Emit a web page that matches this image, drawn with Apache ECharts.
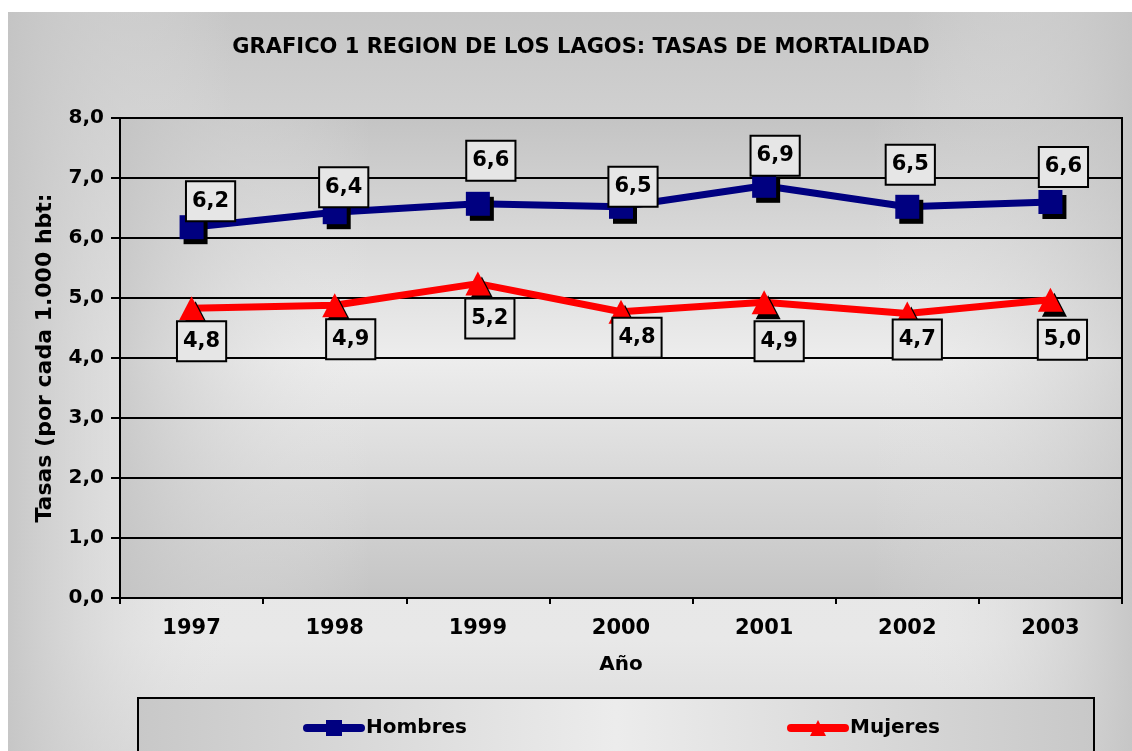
<!DOCTYPE html>
<html>
<head>
<meta charset="utf-8">
<script src="https://cdn.jsdelivr.net/npm/echarts@6/dist/echarts.min.js"></script>
<style>
  html, body { margin: 0; padding: 0; background: #fff; }
  #chart { width: 1132px; height: 751px; }
</style>
</head>
<body>
<div id="chart"></div>
<script>
const years = ["1997", "1998", "1999", "2000", "2001", "2002", "2003"];
const hombres = [6.18, 6.43, 6.57, 6.52, 6.87, 6.52, 6.6];
const mujeres = [4.83, 4.88, 5.24, 4.77, 4.93, 4.74, 4.97];

// label box nudges (px), like the hand-placed boxes in the original
const hombresLabelOffset = [[19, -26], [9, -25], [13, -43], [12, -20], [11, -30], [3, -42], [13, -35]];
const mujeresLabelOffset = [[10, 33], [16, 34], [12, 35], [16, 26], [15, 39], [10, 26], [12, 40]];

const FONT = 'Verdana, "DejaVu Sans", sans-serif';
const fmt = (v) => v.toFixed(1).replace(".", ",");

const chart = echarts.init(document.getElementById("chart"));

const grad = (x2, y2, stops) => new echarts.graphic.LinearGradient(0, 0, x2, y2, stops);

const dataLabel = {
  show: true,
  position: "inside",
  formatter: (p) => fmt(p.value),
  fontFamily: FONT,
  fontSize: 21,
  fontWeight: "bold",
  color: "#000",
  lineHeight: 22,
  backgroundColor: "#e6e6e6",
  borderColor: "#000",
  borderWidth: 2,
  padding: [8, 5, 8, 5],
};

const markerShadow = { shadowColor: "#000", shadowBlur: 0, shadowOffsetX: 4, shadowOffsetY: 5 };

const legendBase = {
  top: 713,
  itemWidth: 54,
  itemHeight: 20,
  itemGap: 4,
  lineStyle: { width: 8, cap: "round" },
  itemStyle: { shadowOffsetX: 0, shadowOffsetY: 0, shadowColor: "transparent" },
  textStyle: { fontFamily: FONT, fontSize: 20, fontWeight: "bold", color: "#000" },
};

const option = {
  animation: false,
  title: {
    text: "GRAFICO 1 REGION DE LOS LAGOS: TASAS DE MORTALIDAD",
    left: 576,
    top: 32,
    textAlign: "center",
    textStyle: { fontFamily: FONT, fontSize: 21, fontWeight: "bold", color: "#000" },
  },
  graphic: [
    { type: "rect", z: -10, silent: true, shape: { x: 8, y: 12, width: 1124, height: 739 },
      style: { fill: grad(0, 1, [
        { offset: 0, color: "#c6c6c6" }, { offset: 0.45, color: "#e6e6e6" },
        { offset: 0.85, color: "#e8e8e8" }, { offset: 1, color: "#dadada" }]) } },
    { type: "rect", z: -9, silent: true, shape: { x: 8, y: 12, width: 1124, height: 739 },
      style: { fill: grad(1, 0, [
        { offset: 0, color: "rgba(196,196,196,0.9)" }, { offset: 0.2, color: "rgba(230,230,230,0)" },
        { offset: 0.8, color: "rgba(230,230,230,0)" }, { offset: 1, color: "rgba(196,196,196,0.9)" }]) } },
    { type: "rect", z: -8, silent: true, shape: { x: 120, y: 118, width: 1002, height: 480 },
      style: { fill: grad(0, 1, [
        { offset: 0, color: "#c4c4c4" }, { offset: 0.5, color: "#ededed" }, { offset: 1, color: "#c4c4c4" }]) } },
    { type: "rect", z: -7, silent: true, shape: { x: 120, y: 118, width: 1002, height: 480 },
      style: { fill: grad(1, 0, [
        { offset: 0, color: "rgba(196,196,196,0.8)" }, { offset: 0.25, color: "rgba(236,236,236,0)" },
        { offset: 0.75, color: "rgba(236,236,236,0)" }, { offset: 1, color: "rgba(196,196,196,0.6)" }]) } },
    { type: "rect", z: -6, silent: true, shape: { x: 138, y: 698, width: 956, height: 70 },
      style: { stroke: "#000", lineWidth: 2, fill: grad(1, 0, [
        { offset: 0, color: "#c8c8c8" }, { offset: 0.5, color: "#ececec" }, { offset: 1, color: "#c8c8c8" }]) } },
  ],
  legend: [
    { ...legendBase, data: ["Hombres"], left: 298 },
    { ...legendBase, data: ["Mujeres"], left: 782 },
  ],
  grid: {
    left: 120, top: 118, right: 10, bottom: 153,
    show: true, borderColor: "#000", borderWidth: 2, backgroundColor: "transparent",
  },
  xAxis: {
    type: "category",
    data: years,
    boundaryGap: true,
    name: "Año",
    nameLocation: "middle",
    nameGap: 57,
    nameTextStyle: { fontFamily: FONT, fontSize: 20, fontWeight: "bold", color: "#000" },
    axisLine: { lineStyle: { color: "#000", width: 2 } },
    axisTick: { show: true, length: 6, lineStyle: { color: "#000", width: 2 } },
    axisLabel: { margin: 20, fontFamily: FONT, fontSize: 21, fontWeight: "bold", color: "#000" },
    splitLine: { show: false },
  },
  yAxis: {
    type: "value",
    min: 0, max: 8, interval: 1,
    name: "Tasas (por cada 1.000 hbt:",
    nameLocation: "middle",
    nameGap: 64,
    nameTextStyle: { fontFamily: FONT, fontSize: 22, fontWeight: "bold", color: "#000" },
    axisLine: { show: true, lineStyle: { color: "#000", width: 2 } },
    axisTick: { show: true, length: 9, lineStyle: { color: "#000", width: 2 } },
    axisLabel: { margin: 16, formatter: fmt, fontFamily: FONT, fontSize: 20, fontWeight: "bold", color: "#000" },
    splitLine: { show: true, lineStyle: { color: "#000", width: 2 } },
  },
  series: [
    {
      name: "Hombres",
      type: "line",
      data: hombres.map((v, i) => ({ value: v, label: { offset: hombresLabelOffset[i] } })),
      symbol: "rect",
      symbolSize: 24,
      color: "#000080",
      lineStyle: { color: "#000080", width: 7 },
      itemStyle: { color: "#000080", ...markerShadow },
      label: dataLabel,
      z: 3,
    },
    {
      name: "Mujeres",
      type: "line",
      data: mujeres.map((v, i) => ({ value: v, label: { offset: mujeresLabelOffset[i] } })),
      symbol: "triangle",
      symbolSize: [25, 24],
      color: "#ff0000",
      lineStyle: { color: "#ff0000", width: 7 },
      itemStyle: { color: "#ff0000", ...markerShadow },
      label: dataLabel,
      z: 3,
    },
  ],
};

chart.setOption(option);

window.addEventListener("resize", () => {
  chart.resize();
});
</script>
</body>
</html>
